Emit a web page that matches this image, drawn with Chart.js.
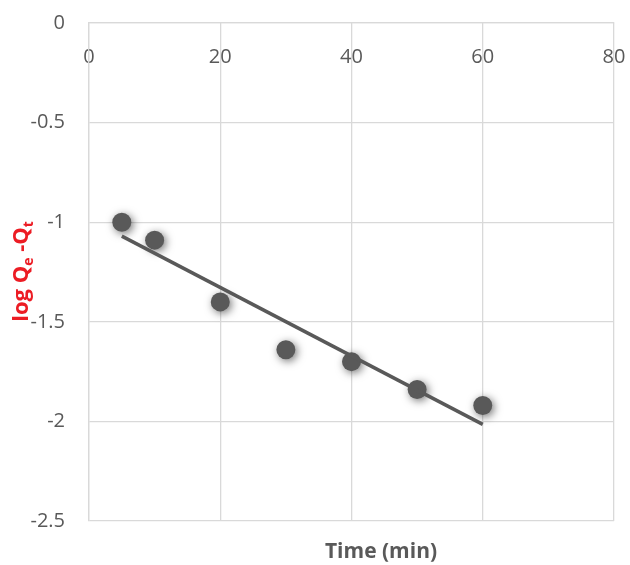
<!DOCTYPE html>
<html><head><meta charset="utf-8">
<style>html,body{margin:0;padding:0;background:#fff;}#wrap{width:630px;height:565px;}</style>
<script src="https://cdn.jsdelivr.net/npm/chart.js@4.4.1/dist/chart.umd.min.js"></script>
</head><body><div id="wrap"><canvas id="c" width="630" height="565"></canvas></div>
<script>
const timeMin = [5, 10, 20, 30, 40, 50, 60];
const logQeQt = [-1.00, -1.09, -1.40, -1.64, -1.70, -1.84, -1.92];
const trendX = [5, 60];
const trendY = [-1.07, -2.015];
const xTicks = [0, 20, 40, 60, 80];
const yTicks = [0, -0.5, -1, -1.5, -2, -2.5];
const xTitle = 'Time (min)';
const yTitleParts = [['log Q', false], ['e', true], [' -Q', false], ['t', true]];

const FONT = "'Open Sans', 'Liberation Sans', sans-serif";
const GRID = '#d9d9d9';
const INK = '#595959';

const shadowPlugin = {
  id: 'shadow',
  beforeDatasetDraw(chart, args) {
    if (args.index === 1) {
      const ctx = chart.ctx;
      ctx.save();
      ctx.shadowColor = 'rgba(0,0,0,0.55)';
      ctx.shadowBlur = 9;
      ctx.shadowOffsetX = 2;
      ctx.shadowOffsetY = 2;
    }
  },
  afterDatasetDraw(chart, args) {
    if (args.index === 1) chart.ctx.restore();
  }
};

const titlePlugin = {
  id: 'titles',
  afterDraw(chart) {
    const ctx = chart.ctx;
    ctx.save();
    ctx.font = "bold 21px " + FONT;
    ctx.fillStyle = INK;
    ctx.textAlign = 'center';
    ctx.textBaseline = 'alphabetic';
    ctx.fillText(xTitle, 381, 558);
    const mainF = "bold 22px " + FONT, subF = "bold 14px " + FONT;
    let total = 0;
    const widths = yTitleParts.map(([t, sub]) => { ctx.font = sub ? subF : mainF; const w = ctx.measureText(t).width; total += w; return w; });
    ctx.translate(28, 271.5);
    ctx.rotate(-Math.PI / 2);
    ctx.fillStyle = '#ec1c24';
    ctx.textAlign = 'left';
    let x = -total / 2;
    yTitleParts.forEach(([t, sub], i) => {
      ctx.font = sub ? subF : mainF;
      ctx.fillText(t, x, sub ? 5 : 0);
      x += widths[i];
    });
    ctx.restore();
  }
};

new Chart(document.getElementById('c'), {
  type: 'scatter',
  data: {
    datasets: [
      {
        label: 'Trend',
        data: trendX.map((v, i) => ({x: v, y: trendY[i]})),
        showLine: true,
        borderColor: INK,
        borderWidth: 3.5,
        pointRadius: 0,
        pointHoverRadius: 0,
        order: 0
      },
      {
        label: 'log Qe - Qt',
        data: timeMin.map((v, i) => ({x: v, y: logQeQt[i]})),
        backgroundColor: INK,
        borderColor: INK,
        borderWidth: 0,
        pointRadius: 9.5,
        order: 1
      }
    ]
  },
  options: {
    responsive: false,
    animation: false,
    devicePixelRatio: 1,
    layout: {padding: {top: 23, right: 16, bottom: 44, left: 0}},
    plugins: {legend: {display: false}, tooltip: {enabled: false}},
    scales: {
      x: {
        type: 'linear',
        min: 0, max: 80,
        position: {y: 0},
        afterBuildTicks: s => { s.ticks = xTicks.map(v => ({value: v})); },
        afterFit: s => { s.paddingLeft = 0; s.paddingRight = 0; s.paddingTop = 0; s.paddingBottom = 0; },
        ticks: {color: INK, font: {family: FONT, size: 20}, padding: 22, callback: v => String(v)},
        grid: {color: GRID, lineWidth: 1.3, drawTicks: false},
        border: {color: GRID, width: 1.3}
      },
      y: {
        type: 'linear',
        min: -2.5, max: 0,
        afterBuildTicks: s => { s.ticks = yTicks.map(v => ({value: v})); },
        afterFit: s => { s.width = 89; s.paddingTop = 0; s.paddingBottom = 0; },
        ticks: {color: INK, font: {family: FONT, size: 20}, padding: 24, callback: v => String(v)},
        grid: {color: GRID, lineWidth: 1.3, drawTicks: false},
        border: {color: GRID, width: 1.3}
      }
    }
  },
  plugins: [shadowPlugin, titlePlugin]
});
</script>
</body></html>
